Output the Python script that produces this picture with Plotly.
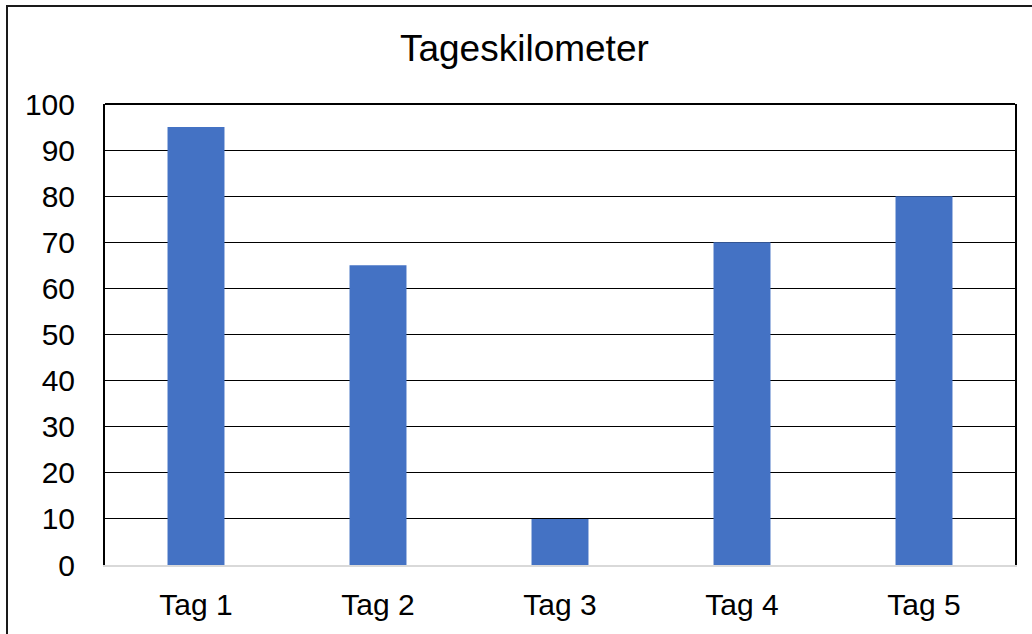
import plotly.graph_objects as go

categories = ["Tag 1", "Tag 2", "Tag 3", "Tag 4", "Tag 5"]
km_values = [95, 65, 10, 70, 80]
y_ticks = [0, 10, 20, 30, 40, 50, 60, 70, 80, 90, 100]

W, H = 1032, 634
L, R, T, B = 105, 1015, 104, 565
pw, ph = R - L, B - T

def px_x(p):
    return (p - L) / pw

def px_y(p):
    return (B - p) / ph

fig = go.Figure()
fig.add_trace(go.Bar(
    x=categories, y=km_values, width=0.313,
    marker=dict(color="#4472C4", line=dict(width=0)),
    hoverinfo="skip",
))

font = "Liberation Sans, Arial, sans-serif"

fig.update_layout(
    width=W, height=H, autosize=False,
    margin=dict(l=L, r=W - R, t=T, b=H - B, pad=0, autoexpand=False),
    paper_bgcolor="white", plot_bgcolor="white",
    showlegend=False,
    font=dict(family=font, color="black", size=30),
    title=dict(text="Tageskilometer", x=524.4 / W, xanchor="center",
               xref="container", y=1 - 48 / H, yanchor="middle", yref="container",
               font=dict(size=37, family=font, color="black")),
    xaxis=dict(showline=True, linecolor="#D9D9D9", linewidth=2,
               showgrid=False, zeroline=False, ticks="", automargin=False,
               tickfont=dict(size=30), ticklabelstandoff=12),
    yaxis=dict(range=[0, 100], tickvals=y_ticks, ticktext=[str(v) for v in y_ticks],
               showline=True, linecolor="black", linewidth=2, mirror=True,
               showgrid=True, gridcolor="black", gridwidth=1.3, automargin=False,
               zeroline=False, ticks="", tickfont=dict(size=30),
               ticklabelstandoff=22),
    shapes=[
        dict(type="line", xref="paper", yref="paper", x0=0, x1=1, y0=1, y1=1,
             line=dict(color="black", width=2), layer="above"),
        dict(type="path", xref="paper", yref="paper",
             path=f"M {px_x(7)} {px_y(650)} L {px_x(7)} {px_y(6)} L {px_x(1050)} {px_y(6)}",
             line=dict(color="#1a1a1a", width=2), layer="above"),
    ],
)

fig.write_html("out.html", config={"displayModeBar": False},
               post_script="document.body.style.margin='0';document.body.style.overflow='hidden';")
